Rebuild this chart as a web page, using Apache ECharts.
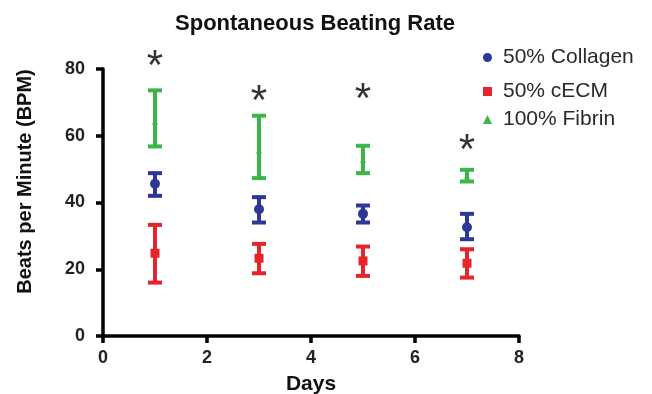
<!DOCTYPE html>
<html>
<head>
<meta charset="utf-8">
<script src="https://cdn.jsdelivr.net/npm/echarts@6/dist/echarts.min.js"></script>
<style>
  html, body { margin: 0; padding: 0; background: #fff; }
  #chart { width: 652px; height: 394px; }
</style>
</head>
<body>
<div id="chart"></div>
<script>
// --- data ---
const days = [1, 3, 5, 7];

const collagenMean = [45.6, 38.0, 36.6, 32.6];
const collagenLow  = [42.0, 34.0, 34.0, 29.0];
const collagenHigh = [48.8, 41.6, 39.1, 36.6];

const cecmMean = [24.8, 23.3, 22.5, 21.8];
const cecmLow  = [16.0, 18.8, 18.0, 17.5];
const cecmHigh = [33.3, 27.6, 26.8, 26.0];

const fibrinMean = [64.3, 55.6, 52.8, 48.0];
const fibrinLow  = [56.8, 47.3, 48.8, 46.3];
const fibrinHigh = [73.6, 66.0, 57.0, 49.8];

// significance stars, drawn above each day
const starY = [83.0, 72.3, 72.9, 57.6];

const xTicks = [0, 2, 4, 6, 8];
const yTicks = [0, 20, 40, 60, 80];

const BLUE = "#2d3796";
const RED = "#e8232b";
const GREEN = "#3cb54a";
const FONT = "Liberation Sans, Arial, sans-serif";

// error bar: vertical line with caps, drawn from [x, low, high]
function errorBar(color) {
  return function (params, api) {
    const x = api.value(0);
    const lo = api.coord([x, api.value(1)]);
    const hi = api.coord([x, api.value(2)]);
    const half = 7;
    const style = { stroke: color, lineWidth: 4, fill: null };
    return {
      type: "group",
      children: [
        { type: "line", shape: { x1: lo[0], y1: lo[1], x2: hi[0], y2: hi[1] }, style },
        { type: "line", shape: { x1: lo[0] - half, y1: lo[1], x2: lo[0] + half, y2: lo[1] }, style },
        { type: "line", shape: { x1: hi[0] - half, y1: hi[1], x2: hi[0] + half, y2: hi[1] }, style },
      ],
    };
  };
}

const zip3 = (a, b, c) => a.map((v, i) => [v, b[i], c[i]]);
const zip2 = (a, b) => a.map((v, i) => [v, b[i]]);

function legendAt(name, icon, top) {
  return {
    data: [{ name, icon }],
    left: 478,
    top: top,
    orient: "vertical",
    itemWidth: 9,
    itemHeight: 9,
    itemGap: 0,
    textStyle: { fontFamily: FONT, fontSize: 21, color: "#2a2a2a", padding: [0, 0, 0, 6] },
  };
}

const chart = echarts.init(document.getElementById("chart"), null, { renderer: "canvas" });

chart.setOption({
  backgroundColor: "#fff",
  animation: false,
  title: {
    text: "Spontaneous Beating Rate",
    left: 310,
    textAlign: "center",
    top: 8,
    textStyle: { fontFamily: FONT, fontSize: 22, fontWeight: "bold", color: "#111" },
  },
  legend: [
    legendAt("50% Collagen", "circle", 42),
    legendAt("50% cECM", "rect", 76),
    legendAt("100% Fibrin", "triangle", 104),
  ],
  grid: { left: 103, right: 133, top: 69, bottom: 58, outerBoundsMode: "none" },
  xAxis: {
    type: "value",
    min: 0,
    max: 8,
    interval: 2,
    name: "Days",
    nameLocation: "middle",
    nameGap: 38,
    nameTextStyle: { fontFamily: FONT, fontSize: 21, fontWeight: "bold", color: "#111" },
    axisLine: { lineStyle: { color: "#000", width: 3.5 } },
    axisTick: { length: 7, lineStyle: { color: "#000", width: 3.5 } },
    axisLabel: {
      fontFamily: FONT, fontSize: 18, fontWeight: "bold", color: "#222", margin: 13,
      customValues: xTicks,
    },
    splitLine: { show: false },
  },
  yAxis: {
    type: "value",
    min: 0,
    max: 80,
    interval: 20,
    name: "Beats per Minute (BPM)",
    nameLocation: "middle",
    nameGap: 68,
    nameTextStyle: {
      fontFamily: FONT, fontSize: 20, fontWeight: "bold", color: "#111",
      padding: [0, 0, 0, 42],
    },
    axisLine: { show: true, lineStyle: { color: "#000", width: 3.5 } },
    axisTick: { show: true, length: 7, lineStyle: { color: "#000", width: 3.5 } },
    axisLabel: {
      fontFamily: FONT, fontSize: 18, fontWeight: "bold", color: "#222", margin: 18,
      customValues: yTicks,
    },
    splitLine: { show: false },
  },
  series: [
    {
      type: "scatter", name: "50% Collagen", data: zip2(days, collagenMean),
      symbol: "circle", symbolSize: 10, itemStyle: { color: BLUE, opacity: 1 }, z: 3,
    },
    {
      type: "scatter", name: "50% cECM", data: zip2(days, cecmMean),
      symbol: "rect", symbolSize: 9, itemStyle: { color: RED, opacity: 1 }, z: 3,
    },
    {
      type: "scatter", name: "100% Fibrin", data: zip2(days, fibrinMean),
      symbol: "triangle", symbolSize: 6, itemStyle: { color: GREEN, opacity: 1 }, z: 3,
    },
    { type: "custom", name: "50% Collagen", renderItem: errorBar(BLUE), itemStyle: { color: BLUE }, data: zip3(days, collagenLow, collagenHigh), z: 2 },
    { type: "custom", name: "50% cECM", renderItem: errorBar(RED), itemStyle: { color: RED }, data: zip3(days, cecmLow, cecmHigh), z: 2 },
    { type: "custom", name: "100% Fibrin", renderItem: errorBar(GREEN), itemStyle: { color: GREEN }, data: zip3(days, fibrinLow, fibrinHigh), z: 2 },
    {
      type: "scatter", name: "sig", data: zip2(days, starY),
      clip: false,
      symbolSize: 1, itemStyle: { color: "transparent" },
      label: {
        show: true, position: "inside", formatter: "*", offset: [0, 8],
        fontFamily: FONT, fontSize: 42, color: "#000",
      },
      z: 4,
    },
  ],
});
</script>
</body>
</html>
